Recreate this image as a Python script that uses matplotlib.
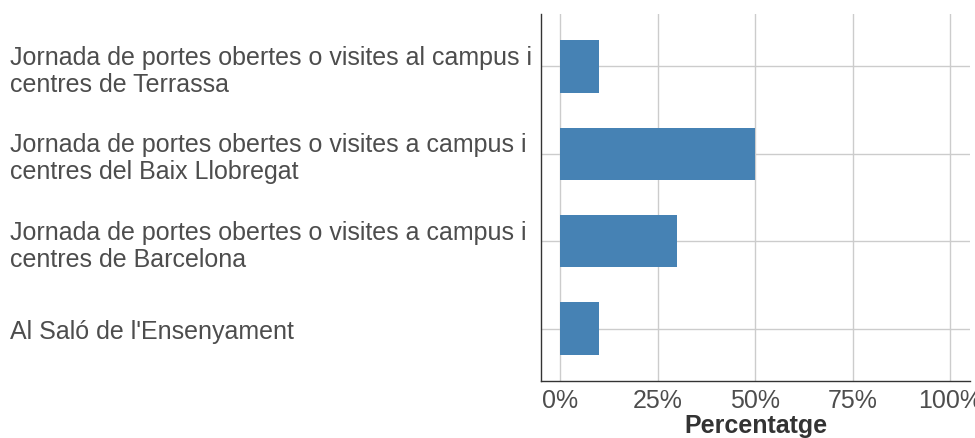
import matplotlib.pyplot as plt
from matplotlib.ticker import PercentFormatter

# categories top to bottom, values in percent
categories = [
    "Jornada de portes obertes o visites al campus i\ncentres de Terrassa",
    "Jornada de portes obertes o visites a campus i\ncentres del Baix Llobregat",
    "Jornada de portes obertes o visites a campus i\ncentres de Barcelona",
    "Al Saló de l'Ensenyament",
]
percentages = [10, 50, 30, 10]
x_ticks = [0, 25, 50, 75, 100]

plt.rcParams['font.family'] = ['Liberation Sans', 'DejaVu Sans']
fs = 18

fig = plt.figure(figsize=(9.75, 4.39), dpi=100)
ax = fig.add_axes([0.5549, 0.1298, 0.44, 0.836])

positions = list(range(len(categories)))
ax.barh(positions, percentages, height=0.6, color='#4682b4', zorder=2)

ax.set_xlim(-4.87, 105.1)
ax.set_ylim(3.6, -0.6)
ax.set_xticks(x_ticks)
ax.xaxis.set_major_formatter(PercentFormatter(decimals=0))
ax.set_yticks(positions)
ax.set_yticklabels(categories, ha='left', fontsize=fs, color='#4d4d4d',
                   linespacing=1.16)

ax.tick_params(axis='y', length=0, pad=382)
ax.tick_params(axis='x', length=0, pad=5, labelsize=fs, labelcolor='#4d4d4d')

ax.grid(True, color='#cccccc', linewidth=1, zorder=0)
ax.set_axisbelow(True)
for side in ['top', 'right']:
    ax.spines[side].set_visible(False)
for side in ['left', 'bottom']:
    ax.spines[side].set_color('#333333')
    ax.spines[side].set_linewidth(1)

ax.set_xlabel('Percentatge', fontsize=fs, fontweight='bold', color='#333333',
              labelpad=1)

fig.savefig('out.png', dpi=100)
